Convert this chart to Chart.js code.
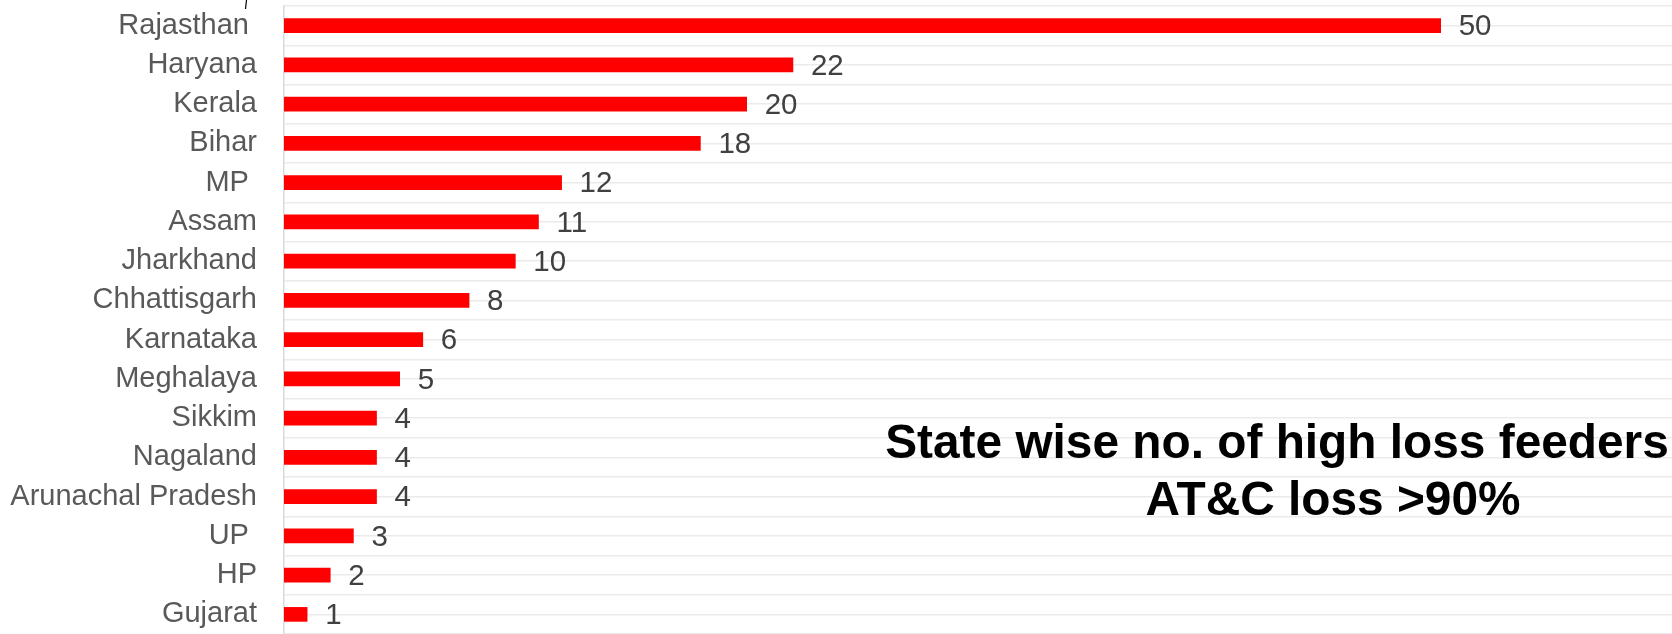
<!DOCTYPE html>
<html>
<head>
<meta charset="utf-8">
<script src="https://cdn.jsdelivr.net/npm/chart.js@4"></script>
<style>
  html, body { margin: 0; padding: 0; background: #ffffff; }
  #wrap { width: 1672px; height: 634px; position: relative; }
</style>
</head>
<body>
<div id="wrap"><canvas id="c" width="1672" height="634"></canvas></div>
<script>
// ---- Data ----
const states = ["Rajasthan ", "Haryana", "Kerala", "Bihar", "MP ", "Assam", "Jharkhand", "Chhattisgarh",
                "Karnataka", "Meghalaya", "Sikkim", "Nagaland", "Arunachal Pradesh", "UP ", "HP", "Gujarat"];
const feeders = [50, 22, 20, 18, 12, 11, 10, 8, 6, 5, 4, 4, 4, 3, 2, 1];
const titleLines = ["State wise no. of high loss feeders", "AT&C loss >90%"];
const axisMin = 0;
const axisMax = 60;

const FONT = "'Liberation Sans', Arial, sans-serif";

const valueLabels = {
  id: 'valueLabels',
  afterDatasetsDraw(chart) {
    const ctx = chart.ctx;
    const meta = chart.getDatasetMeta(0);
    ctx.save();
    ctx.font = "29.5px " + FONT;
    ctx.fillStyle = "#404040";
    ctx.textAlign = "left";
    ctx.textBaseline = "middle";
    meta.data.forEach((bar, i) => {
      ctx.fillText(String(feeders[i]), bar.x + 18, bar.y + 1.5);
    });
    ctx.restore();
  }
};

const overlayText = {
  id: 'overlayText',
  afterDraw(chart) {
    const ctx = chart.ctx;
    ctx.save();
    ctx.font = "bold 47.8px " + FONT;
    ctx.fillStyle = "#000000";
    ctx.textAlign = "center";
    ctx.textBaseline = "alphabetic";
    ctx.fillText(titleLines[0], 1277, 458);
    ctx.fillText(titleLines[1], 1333, 515);
    // small fragment mark at the top
    ctx.strokeStyle = "#000000";
    ctx.lineWidth = 1.2;
    ctx.beginPath();
    ctx.moveTo(246.5, 0);
    ctx.lineTo(245.5, 9);
    ctx.stroke();
    ctx.restore();
  }
};

function noPad(scale) {
  scale.paddingTop = 0;
  scale.paddingBottom = 0;
  scale.paddingLeft = 0;
  scale.paddingRight = 0;
}

new Chart(document.getElementById('c'), {
  type: 'bar',
  data: {
    labels: states,
    datasets: [{
      data: feeders,
      backgroundColor: '#ff0000',
      borderWidth: 0,
      barThickness: 14
    }]
  },
  options: {
    indexAxis: 'y',
    responsive: false,
    animation: false,
    devicePixelRatio: 1,
    layout: { padding: { top: 6, left: 0, right: 0, bottom: 0 } },
    plugins: {
      legend: { display: false },
      tooltip: { enabled: false },
      title: { display: false }
    },
    scales: {
      x: {
        type: 'linear',
        min: axisMin,
        max: axisMax,
        display: false
      },
      y: {
        type: 'category',
        position: 'left',
        offset: true,
        weight: 1,
        grid: { offset: true, color: '#ebebeb', lineWidth: 1.4, drawTicks: false },
        border: { display: true, color: '#d9d9d9', width: 1.5 },
        ticks: {
          color: '#595959',
          font: { family: FONT, size: 29 },
          padding: 27,
          autoSkip: false
        },
        afterFit(scale) { scale.width = 284; noPad(scale); }
      },
      y2: {
        type: 'category',
        axis: 'y',
        position: 'left',
        offset: true,
        weight: 2,
        labels: states,
        grid: { offset: false, color: '#ebebeb', lineWidth: 1.4, drawTicks: false },
        border: { display: false },
        ticks: { display: false, autoSkip: false },
        afterFit(scale) { scale.width = 0; noPad(scale); }
      }
    }
  },
  plugins: [valueLabels, overlayText]
});
</script>
</body>
</html>
